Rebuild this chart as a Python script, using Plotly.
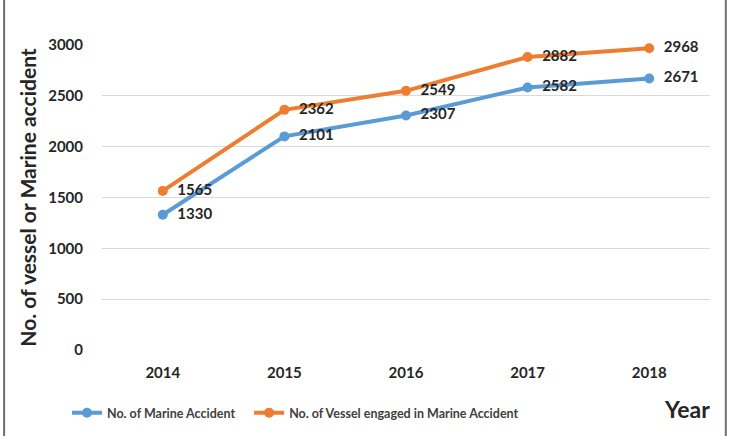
import plotly.graph_objects as go

years = ["2014", "2015", "2016", "2017", "2018"]
marine_accidents = [1330, 2101, 2307, 2582, 2671]
vessels_engaged = [1565, 2362, 2549, 2882, 2968]
y_ticks = [0, 500, 1000, 1500, 2000, 2500, 3000]

FONT = "Lato"
TXT = "#262626"
NB = "\u00a0\u00a0"

fig = go.Figure()
fig.add_trace(go.Scatter(
    x=years, y=marine_accidents, mode="lines+markers+text",
    name="No. of Marine Accident", legend="legend",
    line=dict(color="#5B9BD5", width=4),
    marker=dict(color="#5B9BD5", size=10),
    text=[NB + str(v) for v in marine_accidents], textposition="middle right",
    textfont=dict(family=FONT, size=15, color=TXT, weight="bold"),
    cliponaxis=False,
))
fig.add_trace(go.Scatter(
    x=years, y=vessels_engaged, mode="lines+markers+text",
    name="No. of Vessel engaged in Marine Accident", legend="legend2",
    line=dict(color="#ED7D31", width=4),
    marker=dict(color="#ED7D31", size=10),
    text=[NB + str(v) for v in vessels_engaged], textposition="middle right",
    textfont=dict(family=FONT, size=15, color=TXT, weight="bold"),
    cliponaxis=False,
))

legend_font = dict(family=FONT, size=12.5, color="#404040", weight="bold")
fig.update_layout(
    width=731, height=436,
    margin=dict(l=102, r=21, t=45, b=86, autoexpand=False),
    paper_bgcolor="white", plot_bgcolor="white",
    font=dict(family=FONT, color=TXT),
    showlegend=True,
    legend=dict(orientation="h", x=-0.0576, y=-0.207, xanchor="left",
                yanchor="middle", font=legend_font, itemwidth=30,
                bgcolor="rgba(0,0,0,0)"),
    legend2=dict(orientation="h", x=0.242, y=-0.207, xanchor="left",
                 yanchor="middle", font=legend_font, itemwidth=30,
                 bgcolor="rgba(0,0,0,0)"),
    xaxis=dict(
        type="category", range=[-0.5, 4.5], showgrid=False, showline=False,
        zeroline=False,
        tickfont=dict(family=FONT, size=15, color=TXT, weight="bold"),
        ticks="", ticklabelstandoff=12,
    ),
    yaxis=dict(
        range=[0, 3000], tickvals=y_ticks, showgrid=True, gridcolor="#D9D9D9",
        gridwidth=1, zeroline=False, showline=False, ticks="",
        tickfont=dict(family=FONT, size=15, color=TXT, weight="bold"),
        ticklabelstandoff=18,
        title=dict(text="No. of vessel or Marine accident",
                   font=dict(family=FONT, size=21, color=TXT, weight="bold"),
                   standoff=5),
    ),
    annotations=[dict(
        text="Year", x=1.004, y=-0.193, xref="paper", yref="paper",
        xanchor="right", yanchor="middle", showarrow=False,
        font=dict(family=FONT, size=23, color=TXT, weight="bold"),
    )],
    shapes=[
        dict(type="line", xref="paper", yref="paper",
             x0=-0.161, x1=-0.161, y0=-0.285, y1=1.15,
             line=dict(color="#6F6F6F", width=2)),
        dict(type="line", xref="paper", yref="paper",
             x0=1.026, x1=1.026, y0=-0.285, y1=1.15,
             line=dict(color="#6F6F6F", width=2)),
    ],
)

fig.write_html("out.html")
